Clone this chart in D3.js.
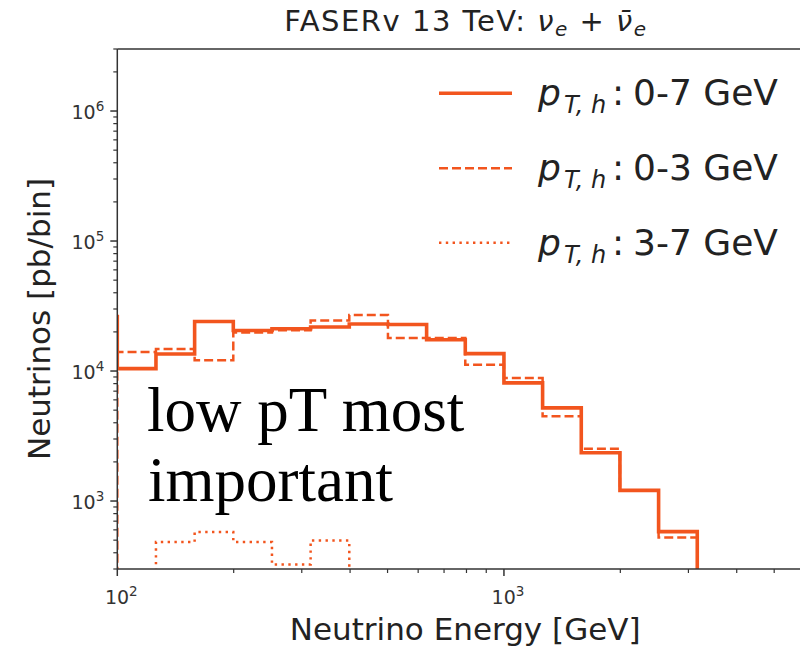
<!DOCTYPE html>
<html><head><meta charset="utf-8">
<script src="https://cdn.jsdelivr.net/npm/d3@7"></script>
<style>body{margin:0;background:#fff}svg{display:block}</style>
</head><body><div id="c"></div>
<script>
// ---- data ----
const binEdges = [79.43, 100, 125.89, 158.49, 199.53, 251.19, 316.23, 398.11, 501.19, 630.96, 794.33, 1000, 1258.9, 1584.9, 1995.3, 2511.9, 3162.3];
const pt07 = [26300, 10430, 13520, 24040, 20510, 21140, 21800, 22970, 22800, 17400, 13600, 8110, 5210, 2350, 1208, 582];
const pt03 = [null, 14030, 14790, 12080, 19820, 20600, 24500, 26980, 17950, 17950, 11190, 8850, 4490, 2520, 1208, 524];
const pt37 = [null, null, 484, 578, 484, 325, 497, null, null, null, null, null, null, null, null, null];
const seriesNames = ["0-7 GeV", "0-3 GeV", "3-7 GeV"];
const xMajor = [100, 1000];
const yMajor = [1e3, 1e4, 1e5, 1e6];

const W = 800, H = 652;
const color = "#f2551e";
const sans = "'DejaVu Sans', sans-serif";
const svg = d3.select("#c").append("svg").attr("width", W).attr("height", H)
  .style("font-family", sans);

const L = 117.3, R = 813, T = 49, B = 569;
const x = d3.scaleLog().domain([100, 6300]).range([L, R]);
const y = d3.scaleLog().domain([300, 3e6]).range([B, T]);

svg.append("clipPath").attr("id", "clip").append("rect")
  .attr("x", L).attr("y", T).attr("width", R - L).attr("height", B - T);

function stepPath(vals) {
  const below = B + 20;
  let d = "";
  vals.forEach((v, i) => {
    const x0 = x(binEdges[i]), x1 = x(binEdges[i + 1]);
    const yy = v == null ? below : y(v);
    d += (i === 0 ? `M${x0},${below}L${x0},${yy}` : `L${x0},${yy}`) + `L${x1},${yy}`;
  });
  d += `L${x(binEdges[binEdges.length - 1])},${below}`;
  return d;
}

const styles = [
  {w: 3.6, dash: null},
  {w: 2.5, dash: "9,4"},
  {w: 2.5, dash: "2.4,4.4"}
];
const data = [pt07, pt03, pt37];
const g = svg.append("g").attr("clip-path", "url(#clip)");
data.forEach((vals, k) => {
  g.append("path").attr("d", stepPath(vals)).attr("fill", "none")
    .attr("stroke", color).attr("stroke-width", styles[k].w)
    .attr("stroke-dasharray", styles[k].dash).attr("stroke-linejoin", "miter");
});

// spines
const spine = "#333";
svg.append("line").attr("x1", L).attr("x2", L).attr("y1", T).attr("y2", B).attr("stroke", spine).attr("stroke-width", 1.5);
svg.append("line").attr("x1", L).attr("x2", W).attr("y1", B).attr("y2", B).attr("stroke", spine).attr("stroke-width", 1.5);
svg.append("line").attr("x1", L).attr("x2", W).attr("y1", T).attr("y2", T).attr("stroke", spine).attr("stroke-width", 1.5);

// y ticks
const yMinor = [];
[100, 1000, 1e4, 1e5, 1e6].forEach(dec => { for (let m = 2; m <= 9; m++) { const v = dec * m; if (v >= 300 && v <= 3e6) yMinor.push(v); } });
const yAxis = svg.append("g").attr("transform", `translate(${L},0)`);
yAxis.selectAll(".mn").data(yMinor).enter().append("line")
  .attr("x1", 0).attr("x2", -4).attr("y1", d => y(d)).attr("y2", d => y(d)).attr("stroke", spine).attr("stroke-width", 1.2);
yAxis.selectAll(".mj").data(yMajor).enter().append("line")
  .attr("x1", 0).attr("x2", -7).attr("y1", d => y(d)).attr("y2", d => y(d)).attr("stroke", spine).attr("stroke-width", 1.5);
const yl = yAxis.selectAll(".lb").data(yMajor).enter().append("text")
  .attr("x", -13).attr("y", d => y(d) + 8).attr("text-anchor", "end")
  .attr("font-size", 19).attr("fill", "#333");
yl.append("tspan").text("10");
yl.append("tspan").attr("font-size", 13.5).attr("dy", -8).text(d => Math.round(Math.log10(d)));

// x ticks
const xMinor = [];
[100, 1000].forEach(dec => { for (let m = 2; m <= 9; m++) { const v = dec * m; if (v <= 6000) xMinor.push(v); } });
const xAxis = svg.append("g").attr("transform", `translate(0,${B})`);
xAxis.selectAll(".mn").data(xMinor).enter().append("line")
  .attr("x1", d => x(d)).attr("x2", d => x(d)).attr("y1", 0).attr("y2", 4).attr("stroke", spine).attr("stroke-width", 1.2);
xAxis.selectAll(".mj").data(xMajor).enter().append("line")
  .attr("x1", d => x(d)).attr("x2", d => x(d)).attr("y1", 0).attr("y2", 7).attr("stroke", spine).attr("stroke-width", 1.5);
const xl = xAxis.selectAll(".lb").data(xMajor).enter().append("text")
  .attr("x", d => x(d) + 4).attr("y", 35).attr("text-anchor", "middle")
  .attr("font-size", 19).attr("fill", "#333");
xl.append("tspan").text("10");
xl.append("tspan").attr("font-size", 13.5).attr("dy", -8).text(d => Math.round(Math.log10(d)));

// axis labels
svg.append("text").attr("x", (L + R) / 2).attr("y", 640).attr("text-anchor", "middle")
  .attr("font-size", 31).attr("fill", "#222").text("Neutrino Energy [GeV]");
svg.append("text").attr("transform", `translate(50,${(T + B) / 2 + 10}) rotate(-90)`).attr("text-anchor", "middle")
  .attr("font-size", 31).attr("fill", "#222").text("Neutrinos [pb/bin]");

// title
const tt = svg.append("text").attr("x", (L + R) / 2).attr("y", 31).attr("text-anchor", "middle")
  .attr("font-size", 29).attr("fill", "#222").attr("textLength", 362).attr("lengthAdjust", "spacing");
tt.append("tspan").text("FASERv 13 TeV: ");
tt.append("tspan").attr("font-style", "italic").text("ν");
tt.append("tspan").attr("font-style", "italic").attr("font-size", 20).attr("dy", 5).text("e");
tt.append("tspan").attr("dy", -5).text(" + ");
tt.append("tspan").attr("font-style", "italic").text("ν\u0304");
tt.append("tspan").attr("font-style", "italic").attr("font-size", 20).attr("dy", 5).text("e");

// legend
const legY = [93.3, 168.3, 242.7];
const lg = svg.append("g");
seriesNames.forEach((name, k) => {
  lg.append("line").attr("x1", 439).attr("x2", 512).attr("y1", legY[k]).attr("y2", legY[k])
    .attr("stroke", color).attr("stroke-width", styles[k].w).attr("stroke-dasharray", styles[k].dash);
  const t = lg.append("text").attr("y", legY[k] + 12).attr("font-size", 36).attr("fill", "#222");
  t.append("tspan").attr("x", 538).attr("font-style", "italic").text("p");
  t.append("tspan").attr("x", 564).attr("font-style", "italic").attr("font-size", 24).attr("dy", 8).text("T, h");
  t.append("tspan").attr("x", 612).attr("dy", -8).text(":");
  t.append("tspan").attr("x", 633).text(name);
});

// annotation
const ann = svg.append("text").style("font-family", "'Liberation Serif', 'Times New Roman', serif")
  .attr("font-size", 63).attr("fill", "#000");
ann.append("tspan").attr("x", 147).attr("y", 431).text("low pT most");
ann.append("tspan").attr("x", 148).attr("y", 501).text("important");
</script></body></html>
